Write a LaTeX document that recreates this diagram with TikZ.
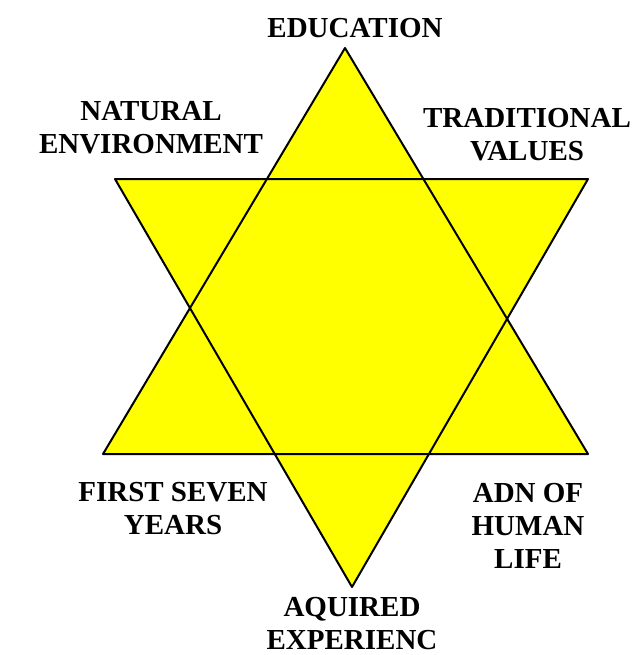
\documentclass[tikz,border=0pt]{standalone}
\usepackage{fontspec}
\setmainfont{Liberation Serif}
\definecolor{starfill}{RGB}{255,255,0}

\begin{document}
\begin{tikzpicture}[x=1pt, y=-1pt, line cap=round, line join=round,
    label/.style={align=center, inner sep=0pt, font=\fontsize{29}{33}\selectfont\bfseries}]

\useasboundingbox (0,0) rectangle (634,655);

% the two triangles, filled first
\fill[starfill] (345,48) -- (103,454) -- (588,454) -- cycle;
\fill[starfill] (115,179) -- (588,179) -- (352,587) -- cycle;

% outlines of both, so the inner lines show
\draw[line width=2pt] (345,48) -- (103,454) -- (588,454) -- cycle;
\draw[line width=2pt] (115,179) -- (588,179) -- (352,587) -- cycle;

% labels at the points
\node[label] (education) at (355,28) {EDUCATION};
\node[label] (natural) at (151,128) {NATURAL\\ENVIRONMENT};
\node[label] (values) at (527,135) {TRADITIONAL\\VALUES};
\node[label] (years) at (173,509) {FIRST SEVEN\\YEARS};
\node[label] (adn) at (528,526) {ADN OF\\HUMAN\\LIFE};
\node[label] (experience) at (352,624) {AQUIRED\\EXPERIENC};

\end{tikzpicture}
\end{document}
